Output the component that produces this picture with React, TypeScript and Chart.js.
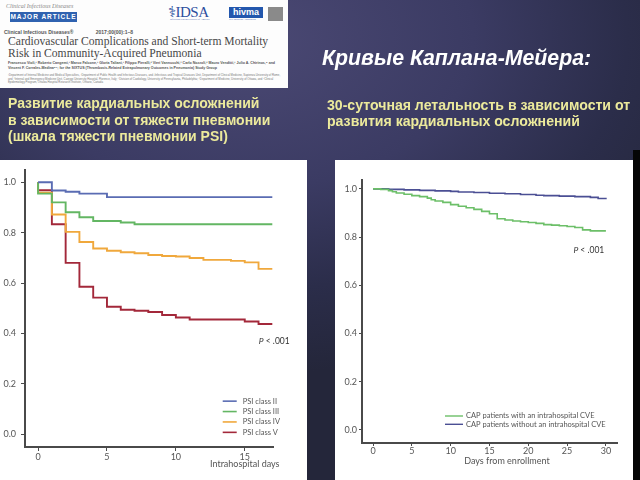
import React, { useEffect, useRef } from "react";
import { Chart, registerables } from "chart.js";

Chart.register(...registerables);

// ---------- DATA ----------
// Left chart: cardiac complications by PSI class (Kaplan-Meier)
const psiLabels = ["PSI class II", "PSI class III", "PSI class IV", "PSI class V"];
const psiColors = ["#5a6cb3", "#63b663", "#f0a83c", "#a3283a"];
const psi2Days = [0, 1, 2, 3, 5, 17];
const psi2Surv = [1.0, 0.967, 0.962, 0.955, 0.941, 0.941];
const psi3Days = [0, 0, 1, 2, 3, 4, 6, 7, 17];
const psi3Surv = [1.0, 0.955, 0.92, 0.881, 0.861, 0.846, 0.84, 0.833, 0.833];
const psi4Days = [0, 0, 1, 2, 3, 4, 5, 6, 7, 8, 9, 10, 11, 12, 14, 15, 16, 17];
const psi4Surv = [1.0, 0.958, 0.872, 0.803, 0.763, 0.737, 0.728, 0.722, 0.718, 0.711, 0.707, 0.705, 0.699, 0.692, 0.688, 0.682, 0.656, 0.656];
const psi5Days = [0, 0, 1, 2, 3, 4, 5, 6, 7, 8, 9, 10, 11, 15, 16, 17];
const psi5Surv = [1.0, 0.968, 0.833, 0.68, 0.585, 0.542, 0.506, 0.494, 0.49, 0.485, 0.473, 0.463, 0.455, 0.447, 0.437, 0.437];
const leftXTicks = [0, 5, 10, 15];
const leftYTicks = [0, 0.2, 0.4, 0.6, 0.8, 1.0];

// Right chart: 30-day mortality by intrahospital CVE
const cveLabels = ["CAP patients with an intrahospital CVE", "CAP patients without an intrahospital CVE"];
const cveColors = ["#6cbf68", "#4b4f94"];
const withCveDays = [0, 1, 2, 2.5, 3, 4, 5, 6, 7, 7.5, 8, 9, 10, 11, 12, 13, 14, 15, 16, 17, 18, 19, 20, 21, 22, 23, 24, 25, 26, 27, 28, 30];
const withCveSurv = [1.0, 0.998, 0.993, 0.988, 0.983, 0.978, 0.972, 0.968, 0.962, 0.955, 0.95, 0.944, 0.935, 0.928, 0.922, 0.915, 0.907, 0.897, 0.876, 0.871, 0.867, 0.864, 0.861, 0.857, 0.852, 0.85, 0.847, 0.844, 0.84, 0.83, 0.826, 0.826];
const withoutCveDays = [0, 2, 4, 6, 8, 10, 11, 13, 15, 17, 19, 21, 22, 24, 26, 28, 29, 30];
const withoutCveSurv = [1.0, 0.998, 0.996, 0.994, 0.992, 0.99, 0.987, 0.985, 0.982, 0.98, 0.977, 0.974, 0.972, 0.97, 0.968, 0.965, 0.96, 0.957];
const rightXTicks = [0, 5, 10, 15, 20, 25, 30];
const rightYTicks = [0, 0.2, 0.4, 0.6, 0.8, 1.0];

const pValueText = ["P", " < .001"];
const leftXTitle = "Intrahospital days";
const rightXTitle = "Days from enrollment";

// ---------- helpers ----------
const FONT = "Lato, 'Open Sans', sans-serif";
const AXIS = "#4a4a4a";
const TICKC = "#555555";

function toPoints(days: number[], surv: number[]) {
  return days.map((d, i) => ({ x: d, y: surv[i] }));
}

type OverlayCfg = {
  legend: { x: number; y: number; rowGap: number; lineLen: number; textGap: number; size: number; lineWidth: number };
  pval: { x: number; y: number; size: number };
  title: { x: number; y: number; size: number; text: string };
};

function overlayPlugin(cfg: OverlayCfg) {
  return {
    id: "kmOverlay",
    afterDatasetsDraw(chart: any) {
      const ctx: CanvasRenderingContext2D = chart.ctx;
      const xs = chart.scales.x;
      const ys = chart.scales.y;
      ctx.save();
      // legend
      const lx = xs.getPixelForValue(cfg.legend.x);
      const ly = ys.getPixelForValue(cfg.legend.y);
      ctx.font = `${cfg.legend.size}px ${FONT}`;
      ctx.textBaseline = "middle";
      ctx.textAlign = "left";
      chart.data.datasets.forEach((ds: any, i: number) => {
        const y = ly + i * cfg.legend.rowGap;
        ctx.strokeStyle = ds.borderColor;
        ctx.lineWidth = cfg.legend.lineWidth;
        ctx.beginPath();
        ctx.moveTo(lx, y);
        ctx.lineTo(lx + cfg.legend.lineLen, y);
        ctx.stroke();
        ctx.fillStyle = TICKC;
        ctx.fillText(ds.label, lx + cfg.legend.lineLen + cfg.legend.textGap, y);
      });
      // p value
      const px = xs.getPixelForValue(cfg.pval.x);
      const py = ys.getPixelForValue(cfg.pval.y);
      ctx.fillStyle = "#333";
      ctx.font = `italic ${cfg.pval.size}px ${FONT}`;
      const w1 = ctx.measureText(pValueText[0]).width;
      ctx.font = `${cfg.pval.size}px ${FONT}`;
      const w2 = ctx.measureText(pValueText[1]).width;
      const sx = px - (w1 + w2) / 2;
      ctx.font = `italic ${cfg.pval.size}px ${FONT}`;
      ctx.fillText(pValueText[0], sx, py);
      ctx.font = `${cfg.pval.size}px ${FONT}`;
      ctx.fillText(pValueText[1], sx + w1, py);
      // axis title
      ctx.fillStyle = TICKC;
      ctx.font = `${cfg.title.size}px ${FONT}`;
      ctx.textAlign = "center";
      ctx.fillText(cfg.title.text, xs.getPixelForValue(cfg.title.x), ys.getPixelForValue(cfg.title.y));
      ctx.restore();
    },
  };
}

function axisScales(opts: {
  xmin: number; xmax: number; ymin: number; ymax: number;
  xTicks: number[]; yTicks: number[]; yWidth: number; xHeight: number;
  tickLen: number; yPad: number; xPad: number; fontSize: number;
}) {
  const tickFont = { family: FONT, size: opts.fontSize };
  return {
    x: {
      type: "linear" as const,
      min: opts.xmin,
      max: opts.xmax,
      afterBuildTicks: (s: any) => { s.ticks = opts.xTicks.map((v) => ({ value: v })); },
      afterFit: (s: any) => { s.height = opts.xHeight; },
      grid: { drawOnChartArea: false, drawTicks: true, tickLength: opts.tickLen, color: AXIS, lineWidth: 1 },
      border: { display: true, color: AXIS, width: 2 },
      ticks: { font: tickFont, color: TICKC, padding: opts.xPad, maxRotation: 0, autoSkip: false, callback: (v: any) => String(v) },
    },
    y: {
      type: "linear" as const,
      min: opts.ymin,
      max: opts.ymax,
      afterBuildTicks: (s: any) => { s.ticks = opts.yTicks.map((v) => ({ value: v })); },
      afterFit: (s: any) => { s.width = opts.yWidth; },
      grid: { drawOnChartArea: false, drawTicks: true, tickLength: opts.tickLen, color: AXIS, lineWidth: 1 },
      border: { display: true, color: AXIS, width: 2 },
      ticks: { font: tickFont, color: TICKC, padding: opts.yPad, autoSkip: false, callback: (v: any) => Number(v).toFixed(1) },
    },
  };
}

function LeftChart() {
  const ref = useRef<HTMLCanvasElement>(null);
  useEffect(() => {
    if (!ref.current) return;
    const series = [
      [psi2Days, psi2Surv],
      [psi3Days, psi3Surv],
      [psi4Days, psi4Surv],
      [psi5Days, psi5Surv],
    ];
    const chart = new Chart(ref.current, {
      type: "line",
      data: {
        datasets: series.map(([d, s], i) => ({
          label: psiLabels[i],
          data: toPoints(d, s),
          borderColor: psiColors[i],
          backgroundColor: psiColors[i],
          borderWidth: 1.9,
          stepped: "before" as const,
          pointRadius: 0,
          fill: false,
        })),
      },
      options: {
        animation: false,
        responsive: false,
        maintainAspectRatio: false,
        layout: { padding: { top: 7, right: 34, left: 0, bottom: 0 } },
        plugins: { legend: { display: false }, tooltip: { enabled: false } },
        scales: axisScales({
          xmin: -0.95, xmax: 17.05, ymin: -0.051, ymax: 1.047,
          xTicks: leftXTicks, yTicks: leftYTicks, yWidth: 25, xHeight: 33,
          tickLen: 4, yPad: 5, xPad: 1, fontSize: 9,
        }) as any,
      },
      plugins: [
        overlayPlugin({
          legend: { x: 13.4, y: 0.131, rowGap: 10.4, lineLen: 14, textGap: 6, size: 7.5, lineWidth: 1.6 },
          pval: { x: 17.14, y: 0.369, size: 8.5 },
          title: { x: 15.0, y: -0.118, size: 9, text: leftXTitle },
        }),
      ],
    });
    return () => chart.destroy();
  }, []);
  return <canvas ref={ref} width={307} height={320} style={{ width: 307, height: 320, display: "block" }} />;
}

function RightChart() {
  const ref = useRef<HTMLCanvasElement>(null);
  useEffect(() => {
    if (!ref.current) return;
    const series = [
      [withCveDays, withCveSurv],
      [withoutCveDays, withoutCveSurv],
    ];
    const chart = new Chart(ref.current, {
      type: "line",
      data: {
        datasets: series.map(([d, s], i) => ({
          label: cveLabels[i],
          data: toPoints(d, s),
          borderColor: cveColors[i],
          backgroundColor: cveColors[i],
          borderWidth: 1.6,
          stepped: "before" as const,
          pointRadius: 0,
          fill: false,
        })),
      },
      options: {
        animation: false,
        responsive: false,
        maintainAspectRatio: false,
        layout: { padding: { top: 20, right: 16, left: 0, bottom: 0 } },
        plugins: { legend: { display: false }, tooltip: { enabled: false } },
        scales: axisScales({
          xmin: -1.42, xmax: 31.43, ymin: -0.054, ymax: 1.037,
          xTicks: rightXTicks, yTicks: rightYTicks, yWidth: 27, xHeight: 37,
          tickLen: 3, yPad: 2, xPad: 0, fontSize: 9,
        }) as any,
      },
      plugins: [
        overlayPlugin({
          legend: { x: 9.27, y: 0.058, rowGap: 8.3, lineLen: 18, textGap: 3, size: 7.5, lineWidth: 1.4 },
          pval: { x: 27.8, y: 0.747, size: 8.5 },
          title: { x: 17.25, y: -0.13, size: 9, text: rightXTitle },
        }),
      ],
    });
    return () => chart.destroy();
  }, []);
  return <canvas ref={ref} width={298} height={320} style={{ width: 298, height: 320, display: "block" }} />;
}

const abs = (l: number, t: number, extra: React.CSSProperties = {}): React.CSSProperties => ({
  position: "absolute", left: l, top: t, ...extra,
});

const YELLOW = "#ecea9c";
const RU = "'Liberation Sans', Arial, sans-serif";

function Header() {
  return (
    <div style={abs(0, 0, { width: 288, height: 88, background: "#fdfdfd", overflow: "hidden", fontFamily: "'Liberation Serif', serif" })}>
      <div style={abs(6, 3, { fontSize: 6, fontStyle: "italic", color: "#888", whiteSpace: "nowrap" })}>Clinical Infectious Diseases</div>
      <div style={abs(10, 12, { width: 67, height: 10, background: "#2f62b0", color: "#fff", fontFamily: RU, fontWeight: 700, fontSize: 6.5, letterSpacing: 1, lineHeight: "10px", textAlign: "center", whiteSpace: "nowrap" })}>MAJOR ARTICLE</div>
      <div style={abs(168, 3, { fontSize: 15, color: "#2d4f9e", whiteSpace: "nowrap", letterSpacing: -0.5 })}>⚕IDSA</div>
      <div style={abs(170, 18, { fontSize: 2.5, color: "#2d4f9e", whiteSpace: "nowrap" })}>Infectious Diseases Society of America</div>
      <div style={abs(229, 7, { width: 34, height: 11, background: "#2357ad", color: "#fff", fontFamily: RU, fontWeight: 700, fontSize: 9, lineHeight: "11px", textAlign: "center" })}>hivma</div>
      <div style={abs(229, 18, { fontSize: 2.5, color: "#2d4f9e", whiteSpace: "nowrap" })}>HIV Medicine Association</div>
      <div style={abs(268, 7, { width: 15, height: 14, background: "#8a8a8a" })} />
      <div style={abs(4, 29, { fontSize: 5, fontWeight: 700, color: "#555", fontFamily: RU, whiteSpace: "nowrap" })}>Clinical Infectious Diseases® &nbsp;&nbsp;&nbsp;&nbsp;&nbsp;&nbsp;&nbsp;&nbsp;&nbsp;&nbsp;&nbsp;&nbsp;&nbsp;&nbsp; 2017;00(00):1–8</div>
      <div style={abs(8, 36, { fontSize: 11.6, color: "#474747", lineHeight: "11.5px", whiteSpace: "nowrap" })}>
        Cardiovascular Complications and Short-term Mortality<br />Risk in Community-Acquired Pneumonia
      </div>
      <div style={abs(8, 61, { fontSize: 3.6, fontWeight: 700, color: "#555", fontFamily: RU, lineHeight: "4.5px", width: 270 })}>
        Francesco Violi,¹ Roberto Cangemi,¹ Marco Falcone,¹ Gloria Taliani,¹ Filippo Pieralli,² Vieri Vannucchi,³ Carlo Nozzoli,² Mauro Venditti,¹ Julio A. Chirinos,⁴ and Vincent F. Corrales-Medina⁵⁶; for the SIXTUS (Thrombosis-Related Extrapulmonary Outcomes in Pneumonia) Study Group
      </div>
      <div style={abs(8, 74, { fontSize: 2.8, color: "#777", fontFamily: RU, lineHeight: "3.6px", width: 275 })}>
        ¹Department of Internal Medicine and Medical Specialties, ²Department of Public Health and Infectious Diseases, and ³Infectious and Tropical Diseases Unit, Department of Clinical Medicine, Sapienza University of Rome, and ⁴Internal and Emergency Medicine Unit, Careggi University Hospital, Florence, Italy; ⁵Division of Cardiology, University of Pennsylvania, Philadelphia; ⁶Department of Medicine, University of Ottawa, and ⁷Clinical Epidemiology Program, Ottawa Hospital Research Institute, Ontario, Canada
      </div>
    </div>
  );
}

export default function App() {
  return (
    <div
      style={{
        position: "fixed", left: 0, top: 0, width: 640, height: 480, overflow: "hidden",
        background: "radial-gradient(ellipse 80% 70% at 38% 8%, #4b4974 0%, #3b3b63 45%, #2b2d4a 75%, #24263a 100%)",
      }}
    >
      <Header />
      <div style={abs(8, 95, { fontFamily: RU, fontWeight: 700, fontSize: 14, lineHeight: "16.5px", color: YELLOW, whiteSpace: "nowrap" })}>
        Развитие кардиальных осложнений<br />в зависимости от тяжести пневмонии<br />(шкала тяжести пневмонии PSI)
      </div>
      <div style={abs(322, 46, { fontFamily: RU, fontWeight: 700, fontStyle: "italic", fontSize: 21.3, color: "#ffffff", whiteSpace: "nowrap" })}>
        Кривые Каплана-Мейера:
      </div>
      <div style={abs(327, 98, { fontFamily: RU, fontWeight: 700, fontSize: 14.1, lineHeight: "15.5px", color: YELLOW, whiteSpace: "nowrap" })}>
        30-суточная летальность в зависимости от<br />развития кардиальных осложнений
      </div>
      <div style={abs(0, 160, { width: 307, height: 320, background: "#ffffff" })}>
        <LeftChart />
      </div>
      <div style={abs(335, 160, { width: 298, height: 320, background: "#ffffff" })}>
        <RightChart />
      </div>
      <div style={abs(633, 150, { width: 7, height: 330, background: "#050505" })} />
    </div>
  );
}
